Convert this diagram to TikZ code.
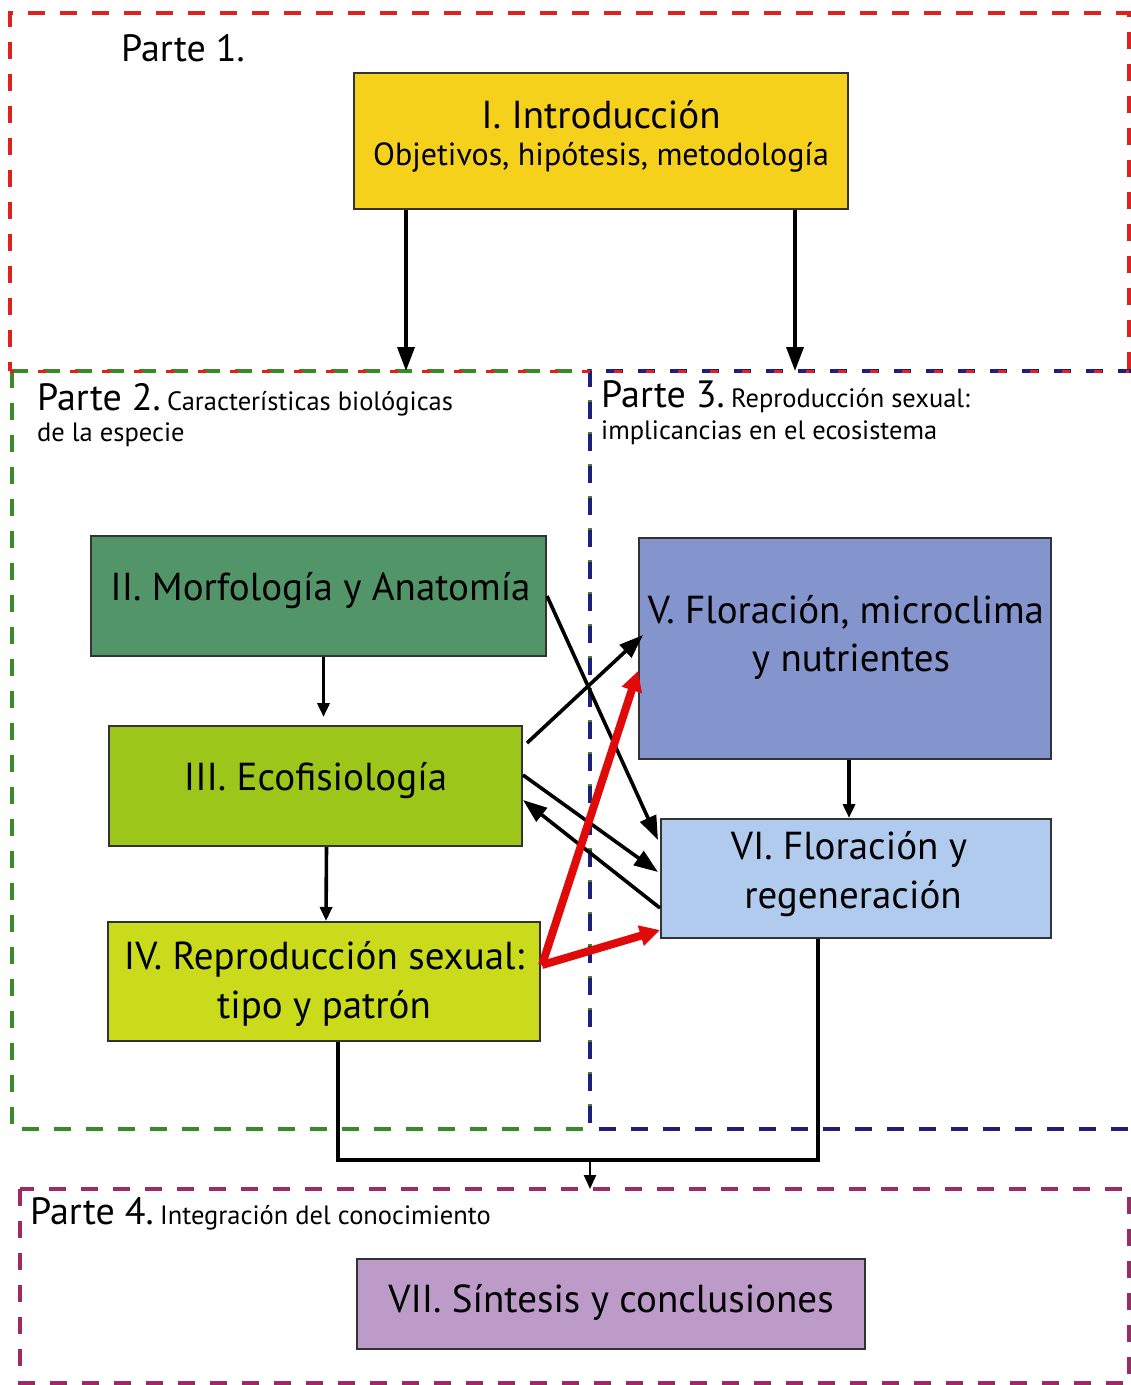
\documentclass[tikz,border=0pt]{standalone}
\usepackage{fontspec}
\setmainfont{PT Sans}
\usetikzlibrary{arrows.meta,calc}
\definecolor{cyellow}{HTML}{F6D11B}
\definecolor{cgreenbox}{HTML}{519568}
\definecolor{clime}{HTML}{9DC61A}
\definecolor{cyelgreen}{HTML}{CADB1B}
\definecolor{cblue}{HTML}{8494CD}
\definecolor{clightblue}{HTML}{B1CBEF}
\definecolor{cpurplebox}{HTML}{BD9BC8}
\definecolor{dred}{HTML}{E0201E}
\definecolor{dgreen}{HTML}{3A8A2A}
\definecolor{dblue}{HTML}{1D1F7A}
\definecolor{dpurple}{HTML}{9C2A66}
\definecolor{redarrow}{HTML}{E00A0A}
\newcommand\partesubfont{\fontsize{26.5}{30}\selectfont}
\tikzset{
  frame/.style={line width=3.4pt, dash pattern=on 17pt off 15pt},
  box/.style={draw=black!80, line width=2pt, anchor=north west, inner sep=0pt, align=center},
  boxtxt/.style={font=\fontsize{39}{48}\selectfont, align=center, inner sep=0pt},
  arr/.style={line width=3.6pt, -{Triangle[length=24pt,width=17pt]}},
  redarr/.style={line width=8pt, draw=redarrow, -{Triangle[length=20pt,width=20pt]}},
  conn/.style={line width=3.6pt},
  parte/.style={anchor=base west, inner sep=0pt, font=\fontsize{38}{44}\selectfont},
  partesub/.style={font=\partesubfont},
}
\begin{document}
\begin{tikzpicture}[x=1pt,y=-1pt]
\useasboundingbox (0,0) rectangle (1131,1385);
\fill[white] (0,0) rectangle (1131,1385);
% frames
\draw[frame, draw=dgreen] (12,371) rectangle (590,1129);
\draw[frame, draw=dblue] (1135,371) -- (590,371) -- (590,1129) -- (1135,1129);
\draw[frame, draw=dred, dash phase=8pt] (10,371) -- (10,13) -- (1129,13) -- (1129,371);
\draw[frame, draw=dred, line width=3pt, dash pattern=on 8pt off 24pt, dash phase=4pt] (10,371) -- (1129,371);
\draw[frame, draw=dpurple] (20,1189) rectangle (1129,1383);
% labels
\node[parte] (p1) at (121,61) {Parte 1.};
\node[parte] (p2) at (37,410) {Parte 2.\,{\partesubfont Características biológicas}};
\node[parte, partesub] (p2b) at (37,441) {de la especie};
\node[parte] (p3) at (601,407) {Parte 3.\,{\partesubfont Reproducción sexual:}};
\node[parte, partesub] (p3b) at (601,439) {implicancias en el ecosistema};
\node[parte] (p4) at (30,1224) {Parte 4.\,{\partesubfont Integración del conocimiento}};
% boxes
\node[box, fill=cyellow, minimum width=494pt, minimum height=136pt] (I) at (353,72) {};
\node[boxtxt] at ($(I.center)+(0,-26)$) {I. Introducción};
\node[boxtxt, font=\fontsize{32}{36}\selectfont] at ($(I.center)+(0,16)$) {Objetivos, hipótesis, metodología};
\node[box, fill=cgreenbox, minimum width=455pt, minimum height=120pt] (II) at (90,535) {};
\node[boxtxt] at ($(II.center)+(2,-5)$) {II. Morfología y Anatomía};
\node[box, fill=clime, minimum width=413pt, minimum height=120pt] (III) at (108,725) {};
\node[boxtxt] at ($(III.center)+(0,-5)$) {III. Ecofisiología};
\node[box, fill=cyelgreen, minimum width=432pt, minimum height=119pt] (IV) at (107,921) {};
\node[boxtxt] at ($(IV.center)+(0,-22)$) {IV. Reproducción sexual:};
\node[boxtxt] at ($(IV.center)+(0,27)$) {tipo y patrón};
\node[box, fill=cblue, minimum width=412pt, minimum height=221pt] (V) at (638,537) {};
\node[boxtxt] at ($(V.center)+(1,-36)$) {V. Floración, microclima};
\node[boxtxt] at ($(V.center)+(6,13)$) {y nutrientes};
\node[box, fill=clightblue, minimum width=390pt, minimum height=119pt] (VI) at (660,818) {};
\node[boxtxt] at ($(VI.center)+(-7,-29)$) {VI. Floración y};
\node[boxtxt] at ($(VI.center)+(-3,20)$) {regeneración};
\node[box, fill=cpurplebox, minimum width=508pt, minimum height=90pt] (VII) at (356,1258) {};
\node[boxtxt] at ($(VII.center)+(0,-2)$) {VII. Síntesis y conclusiones};
% coordinates
\coordinate (f2top) at (406,371);
\coordinate (f3top) at (795,371);
\coordinate (jl) at (338,1160);
\coordinate (jr) at (818,1160);
\coordinate (jm) at (590,1160);
\coordinate (f4top) at (590,1189);
% arrows
\draw[arr] (I.south -| f2top) -- (f2top);
\draw[arr] (I.south -| f3top) -- (f3top);
\draw[arr, -{Triangle[length=14pt,width=12pt]}] ($(II.south)+(5,0)$) -- ($(III.north)+(8,-8)$);
\draw[arr, -{Triangle[length=14pt,width=12pt]}] ($(III.south)+(11,0)$) -- ($(IV.north)+(2,0)$);
\draw[arr, -{Triangle[length=14pt,width=12pt]}] ($(V.south)+(4,0)$) -- ($(VI.north)+(-7,0)$);
\draw[arr] (II.east) -- ([yshift=-22pt,xshift=-2pt]VI.north west);
\draw[arr] ([yshift=-18pt,xshift=4pt]III.north east) -- ([yshift=-98pt,xshift=5pt]V.north west);
\draw[arr] ([yshift=-50pt]III.north east) -- ([yshift=-54pt,xshift=-2pt]VI.north west);
\draw[arr] ([yshift=-90pt]VI.north west) -- ([yshift=-75pt]III.north east);
\draw[redarr] ([yshift=-44pt,xshift=1pt]IV.north east) -- ([yshift=-134pt]V.north west);
\draw[redarr] ([yshift=-44pt,xshift=1pt]IV.north east) -- ([yshift=-112pt]VI.north west);
\draw[conn] (IV.south -| jl) -- (jl) -- (jr) -- (VI.south -| jr);
\draw[line width=2.4pt, -{Triangle[length=14pt,width=12pt]}] (jm) -- (f4top);
\end{tikzpicture}
\end{document}
